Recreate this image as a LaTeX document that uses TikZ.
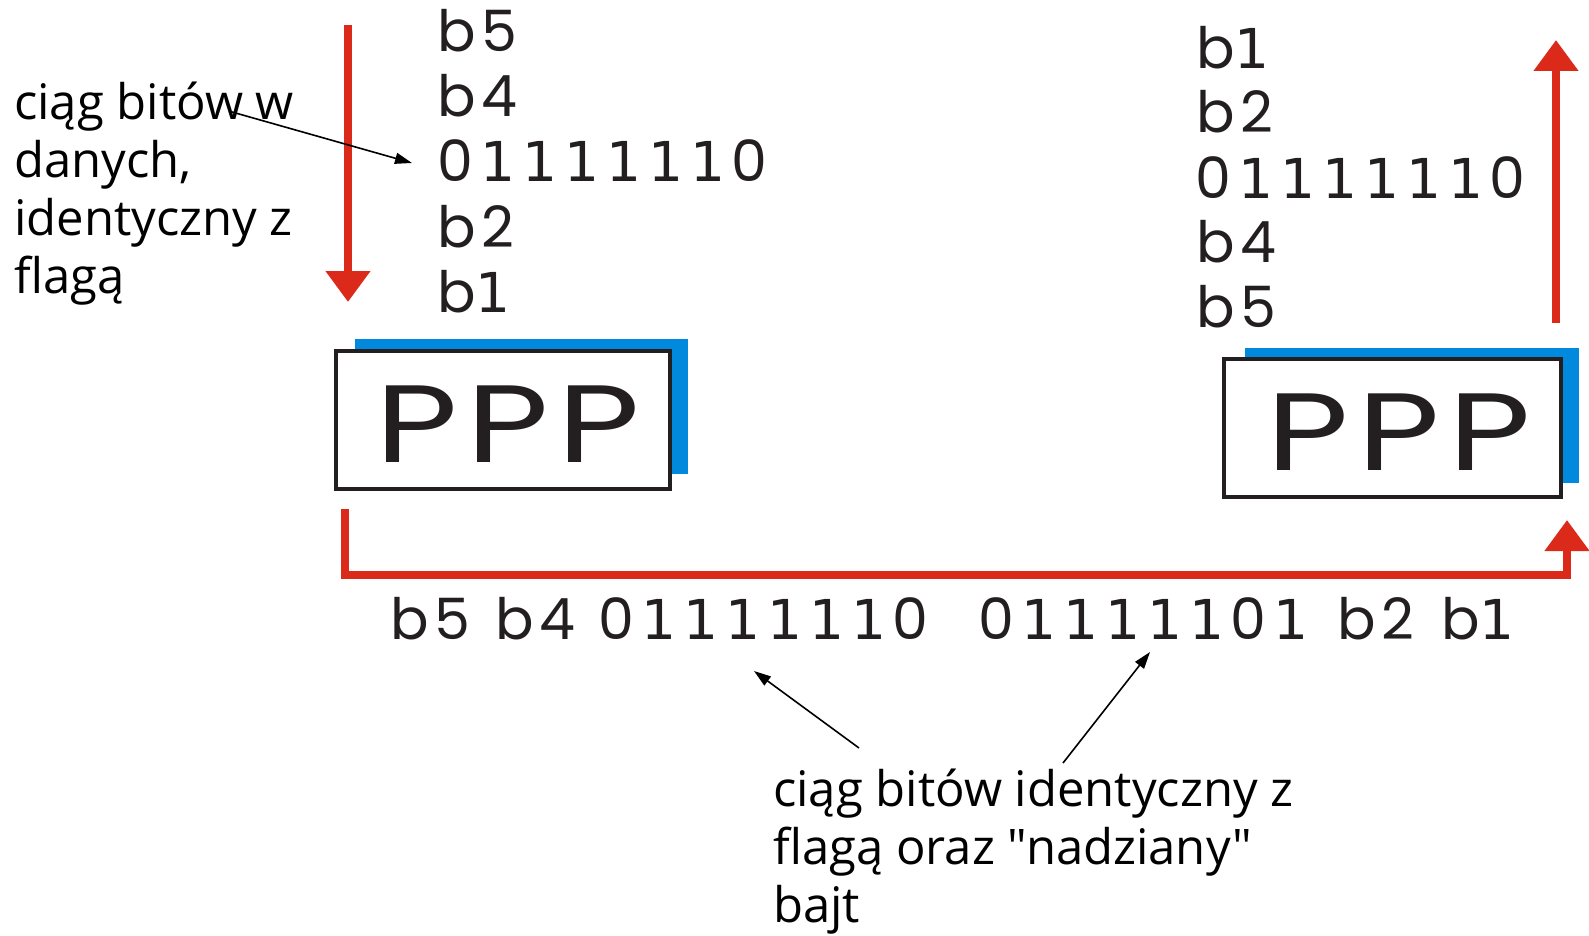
\documentclass[tikz,border=0pt]{standalone}
\usepackage{fontspec}
\setmainfont{Poppins}
\newfontfamily\gfont{Poppins}[LetterSpace=10]
\newfontfamily\onefont{DejaVu Sans}
\newfontfamily\pfont{Poppins}
\newfontfamily\cfont{Open Sans}
\usetikzlibrary{arrows.meta}
\definecolor{pred}{RGB}{220,42,26}
\definecolor{pblue}{RGB}{0,137,221}
\definecolor{ink}{RGB}{35,31,32}
% footed "1"
\newcommand\footone{{\onefont\fontsize{55}{55}\selectfont 1}}
% monospaced digit row (each digit in a 42pt cell)
\newcommand\digrow[1]{\digloop#1\relax}
\def\digloop#1{\ifx#1\relax\else\makebox[42pt][c]{\if1#1\footone\else#1\fi}\expandafter\digloop\fi}
% wide P cells
\newcommand\pcell[1]{\makebox[91pt][c]{\scalebox{1.3}[1]{#1}}}
\begin{document}
\begin{tikzpicture}[x=1pt,y=-1pt,
 redarrow/.style={draw=pred,line width=8.5pt,line join=miter,-{Triangle[length=31pt,width=43pt]}},
 ptr/.style={draw=black,line width=1.6pt,-{Triangle[length=17pt,width=11pt]}},
 stack/.style={anchor=base west,inner sep=0pt,text=ink,font=\gfont\fontsize{57}{57}\selectfont},
 note/.style={anchor=base west,inner sep=0pt,align=left,font=\cfont\fontsize{49}{58}\selectfont},
 pppbox/.style={draw=ink,line width=3.5pt,fill=white,minimum width=334pt,minimum height=138pt,inner sep=0pt,text=ink,text height=85pt,text depth=0pt,font=\pfont\fontsize{110}{110}\selectfont},
 shadowbox/.style={fill=pblue}
]
\useasboundingbox (0,0) rectangle (1589,936);
% shadows
\fill[shadowbox] (355,339) rectangle (688,474);
\fill[shadowbox] (1245,348) rectangle (1579,483);
% boxes
\node[pppbox] (pppL) at (503,420) {\hspace*{10pt}\pcell{P}\pcell{P}\pcell{P}};
\node[pppbox,minimum width=337pt] (pppR) at (1392.5,428) {\hspace*{12pt}\pcell{P}\pcell{P}\pcell{P}};
% left stack
\node[stack] (l5) at (437,52) {b5};
\node[stack] (l4) at (437,117) {b4};
\node[stack] (lf) at (434.5,182) {\digrow{01111110}};
\node[stack] (l2) at (437,247) {b2};
\node[stack] (l1) at (437,312) {b\footone};
% right stack
\node[stack] (r1) at (1196,69) {b\footone};
\node[stack] (r2) at (1196,133) {b2};
\node[stack] (rf) at (1192.5,199) {\digrow{01111110}};
\node[stack] (r4) at (1196,262) {b4};
\node[stack] (r5) at (1196,327) {b5};
% bottom stream
\node[stack] (stream) at (390,639) {\makebox[105pt][l]{b5}\makebox[100.5pt][l]{b4}\digrow{01111110}\hspace{44pt}\digrow{01111101}\hspace{25.5pt}\makebox[104pt][l]{b2}b\footone};
% notes (base anchor = last line)
\node[note] (noteL) at (14,293) {ciąg bitów w\\danych,\\identyczny z\\flagą};
\node[note] (noteB) at (773,922) {ciąg bitów identyczny z\\flagą oraz "nadziany"\\bajt};
% red arrows
\coordinate (la0) at (348,25); \coordinate (la1) at (348,302);
\draw[redarrow] (la0) -- (la1);
\coordinate (ra0) at (1556,323); \coordinate (ra1) at (1556,40);
\draw[redarrow] (ra0) -- (ra1);
\coordinate (ba0) at (345,509); \coordinate (ba1) at (345,575);
\coordinate (ba2) at (1567,575); \coordinate (ba3) at (1567,520);
\draw[redarrow] (ba0) -- (ba1) -- (ba2) -- (ba3);
% pointers
\coordinate (p1s) at (232,112); \coordinate (p1e) at (412,163);
\draw[ptr] (p1s) -- (p1e);
\coordinate (p2s) at (859,748); \coordinate (p2e) at (754,671);
\draw[ptr] (p2s) -- (p2e);
\coordinate (p3s) at (1063,763); \coordinate (p3e) at (1150,652);
\draw[ptr] (p3s) -- (p3e);
\end{tikzpicture}
\end{document}
